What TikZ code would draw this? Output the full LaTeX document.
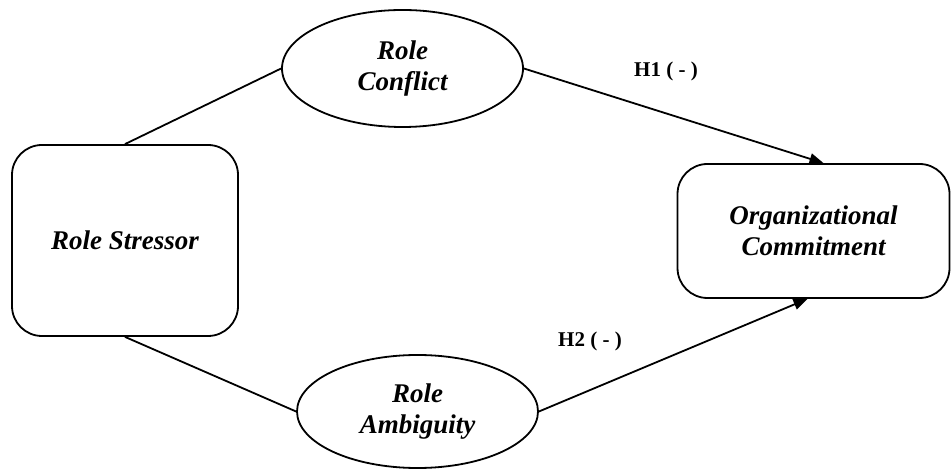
\documentclass[tikz,border=0pt]{standalone}
\usepackage{fontspec}
\setmainfont{Liberation Serif}
\usetikzlibrary{arrows.meta,positioning,shapes.geometric}

\tikzset{
  varbox/.style={draw,line width=0.9pt,rounded corners=15pt,align=center,
    font=\fontsize{13.5}{15.5}\selectfont\bfseries\itshape},
  varoval/.style={draw,ellipse,line width=0.9pt,inner sep=0pt,align=center,
    font=\fontsize{13.5}{15.5}\selectfont\bfseries\itshape},
  hyp/.style={font=\fontsize{10.5}{12}\selectfont\bfseries},
  link/.style={line width=0.9pt},
  harrow/.style={line width=0.9pt,-{Triangle[length=7pt,width=5.5pt]}}
}

\begin{document}
\begin{tikzpicture}[x=0.5pt,y=-0.5pt]
    \useasboundingbox (0,0) rectangle (951,469);
    \node[varbox,minimum width=113pt,minimum height=95.5pt] (rs) at (125,240.5) {Role Stressor};
    \node[varoval,minimum width=120.5pt,minimum height=58.5pt] (rc) at (402.5,68.5) {Role\\Conflict};
    \node[varoval,minimum width=120.5pt,minimum height=56.5pt] (ra) at (417.5,411.5) {Role\\Ambiguity};
    \node[varbox,minimum width=136pt,minimum height=67pt] (oc) at (813.5,231) {Organizational\\Commitment};
    \node[hyp] (h1) at (666,71) {H1 ( - )};
    \node[hyp] (h2) at (590,341) {H2 ( - )};
    \draw[link] (rs.north) -- (rc.west);
    \draw[link] (rs.south) -- (ra.west);
    \draw[harrow] (rc.east) -- ([xshift=5pt]oc.north);
    \draw[harrow] (ra.east) -- ([xshift=-3pt]oc.south);
  \end{tikzpicture}
\end{document}
